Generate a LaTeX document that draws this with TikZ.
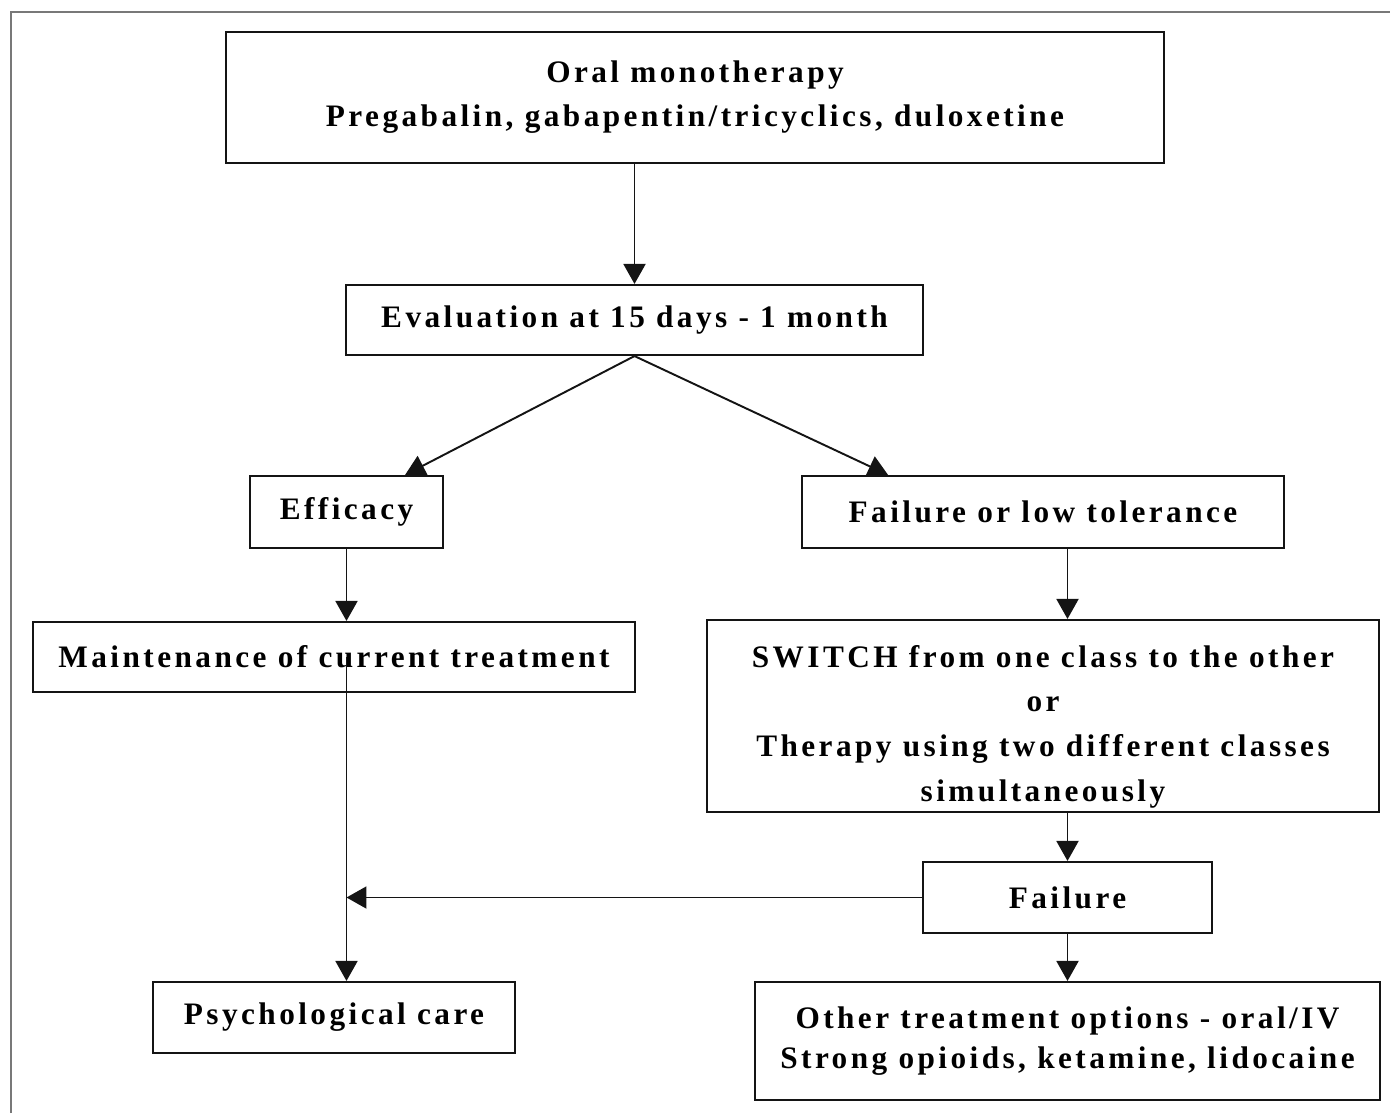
\documentclass[tikz,border=0pt]{standalone}
\usepackage{fontspec}
\setmainfont[LetterSpace=11]{Liberation Serif}
\usetikzlibrary{arrows.meta,positioning,calc}
\definecolor{ink}{RGB}{20,20,20}
\definecolor{frame}{RGB}{120,120,120}
\tikzset{
  >={Triangle[length=4mm,width=4.4mm]},
  box/.style={draw=ink,line width=1.2pt,align=center,inner sep=0pt,
    minimum width=#1,font=\fontsize{17.8}{25}\selectfont\bfseries},
  txt/.style={align=center,inner sep=0pt,font=\fontsize{17.8}{25.4}\selectfont\bfseries},
  flow/.style={->,line width=1.1pt,draw=ink},
}

\begin{document}
\begin{tikzpicture}[x=0.02cm,y=-0.02cm]
  \useasboundingbox (0,0) rectangle (1390,1113);
  \draw[frame,line width=1.2pt] (11,1113) -- (11,12) -- (1390,12);
  % boxes
  \node[box=938*0.02cm,minimum height=131*0.02cm] (mono) at (695,97.5) {Oral monotherapy\\Pregabalin, gabapentin/tricyclics, duloxetine};
  \node[box=577*0.02cm,minimum height=70*0.02cm] (eval) at (634.5,320) {Evaluation at 15 days - 1 month};
  \node[box=193*0.02cm,minimum height=72*0.02cm] (eff) at (346.5,512) {Efficacy};
  \node[box=482*0.02cm,minimum height=72*0.02cm] (flt) at (1043,512) {Failure or low tolerance};
  \node[box=602*0.02cm,minimum height=70*0.02cm] (maint) at (334,657) {Maintenance of current treatment};
  \node[box=672*0.02cm,minimum height=192*0.02cm] (switch) at (1043,716) {};
  \node[txt] (switchtxt) at ([yshift=-0.21cm]switch.center) {SWITCH from one class to the other\\or\\Therapy using two different classes\\simultaneously};
  \node[box=289*0.02cm,minimum height=71*0.02cm] (fail) at (1067.5,897.5) {Failure};
  \node[box=362*0.02cm,minimum height=71*0.02cm] (psych) at (334,1017.5) {Psychological care};
  \node[box=625*0.02cm,minimum height=118*0.02cm,font=\fontsize{17.8}{22.5}\selectfont\bfseries] (other) at (1067.5,1041) {Other treatment options - oral/IV\\Strong opioids, ketamine, lidocaine};
  % arrows
  \draw[flow] (mono.south -| eval) -- (eval.north);
  \draw[flow] (eval.south) -- ($(eff.north west)!0.8!(eff.north east)$);
  \draw[flow] (eval.south) -- ($(flt.north west)!0.18!(flt.north east)$);
  \draw[flow] (eff.south) -- (eff |- maint.north);
  \draw[flow] (eff |- maint.center) -- (eff |- psych.north);
  \draw[flow] (flt.south -| fail) -- (switch.north -| fail);
  \draw[flow] (switch.south -| fail) -- (fail.north);
  \draw[flow] (fail.west) -- (fail.west -| eff);
  \draw[flow] (fail.south) -- (other.north);
\end{tikzpicture}
\end{document}
